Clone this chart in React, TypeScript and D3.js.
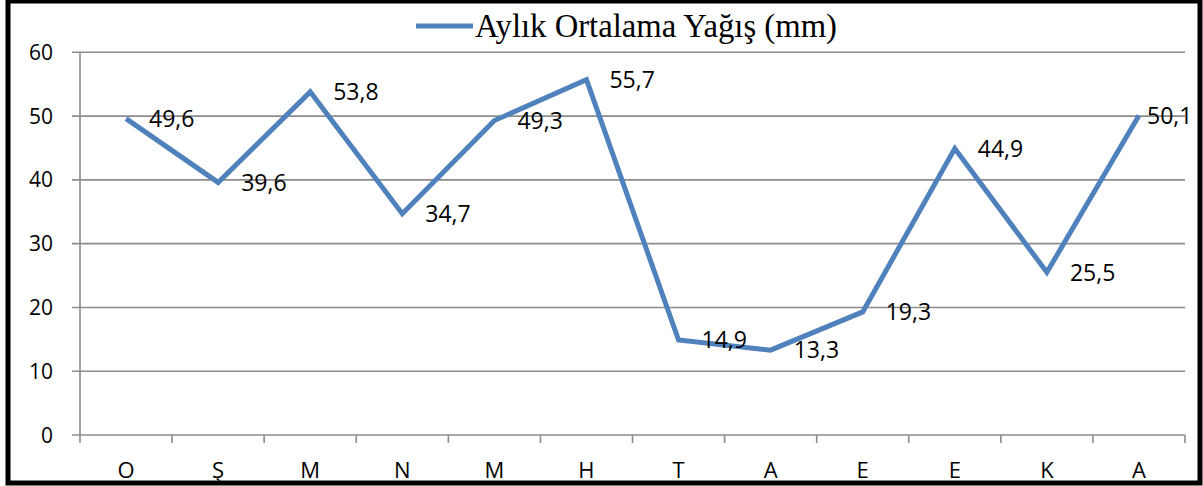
import React from "react";
import * as d3 from "d3";

const categories: string[] = ["O", "Ş", "M", "N", "M", "H", "T", "A", "E", "E", "K", "A"];
const values: number[] = [49.6, 39.6, 53.8, 34.7, 49.3, 55.7, 14.9, 13.3, 19.3, 44.9, 25.5, 50.1];
const yTicks: number[] = [0, 10, 20, 30, 40, 50, 60];
const seriesName = "Aylık Ortalama Yağış (mm)";

const W = 1203;
const H = 486;
const plot = { left: 80, right: 1185, top: 52.3, bottom: 435 };
const LINE = "#4F81BD";
const GRID = "#8c8c8c";

export default function App() {
  const x = d3
    .scaleBand<number>()
    .domain(categories.map((_, i) => i))
    .range([plot.left, plot.right])
    .paddingInner(0)
    .paddingOuter(0);
  const y = d3.scaleLinear().domain([0, 60]).range([plot.bottom, plot.top]);
  const cx = (i: number) => (x(i) as number) + x.bandwidth() / 2;
  const line = d3
    .line<number>()
    .x((_, i) => cx(i))
    .y((d) => y(d));
  const fmt = (v: number) => v.toFixed(1).replace(".", ",");
  const boundaries = d3.range(categories.length + 1).map((i) => plot.left + i * x.bandwidth());

  return (
    <svg
      width={W}
      height={H}
      style={{ position: "fixed", left: 0, top: 0, background: "#fff" }}
    >
      <rect x={0} y={0} width={W} height={H} fill="#fff" />
      {yTicks.map((t) => (
        <line key={"g" + t} x1={72} x2={plot.right} y1={y(t)} y2={y(t)} stroke={GRID} strokeWidth={1.6} />
      ))}
      <line x1={plot.left} x2={plot.left} y1={plot.top} y2={plot.bottom} stroke={GRID} strokeWidth={1.6} />
      {boundaries.map((bx, i) => (
        <line key={"t" + i} x1={bx} x2={bx} y1={plot.bottom} y2={plot.bottom + 8} stroke={GRID} strokeWidth={1.6} />
      ))}
      {yTicks.map((t) => (
        <text
          key={"yl" + t}
          x={53}
          y={y(t)}
          dy="0.36em"
          textAnchor="end"
          fontFamily="'Open Sans', sans-serif"
          fontSize={21}
          fill="#000"
        >
          {t}
        </text>
      ))}
      {categories.map((c, i) => (
        <text
          key={"xl" + i}
          x={cx(i)}
          y={478}
          textAnchor="middle"
          fontFamily="'Open Sans', sans-serif"
          fontSize={22}
          fill="#000"
        >
          {c}
        </text>
      ))}
      <path d={line(values) || ""} fill="none" stroke={LINE} strokeWidth={5} strokeLinejoin="miter" />
      {values.map((v, i) => {
        const lx = Math.min(cx(i) + 23, 1193 - 46);
        return (
          <text
            key={"dl" + i}
            x={lx}
            y={y(v)}
            dy="0.36em"
            fontFamily="'Open Sans', sans-serif"
            fontSize={23}
            fill="#000"
          >
            {fmt(v)}
          </text>
        );
      })}
      <line x1={416} x2={473} y1={26} y2={26} stroke={LINE} strokeWidth={5} />
      <text x={475} y={37} fontFamily="'Liberation Serif', 'Times New Roman', serif" fontSize={32.7} fill="#000">
        {seriesName}
      </text>
      <rect x={8} y={1} width={1192} height={482} fill="none" stroke="#000" strokeWidth={5} />
    </svg>
  );
}
